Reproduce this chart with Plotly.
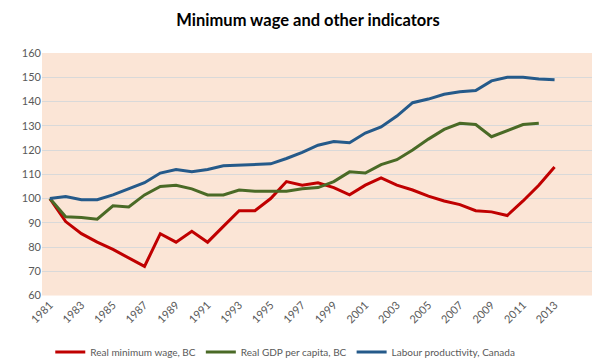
import plotly.graph_objects as go

years = list(range(1981, 2014))
min_wage = [100, 90.5, 85.5, 82, 79, 75.5, 72, 85.5, 82, 86.5, 82, 88.5, 95, 95, 100,
            107, 105.5, 106.5, 104.5, 101.5, 105.5, 108.5, 105.5, 103.5, 101, 99, 97.5,
            95, 94.5, 93, 99, 105.5, 113]
gdp_years = list(range(1981, 2013))
gdp = [100, 92.5, 92.2, 91.5, 97, 96.5, 101.5, 105, 105.5, 104, 101.5, 101.5, 103.5,
       103, 103, 103, 104, 104.5, 107, 111, 110.5, 114, 116, 120, 124.5, 128.5, 131,
       130.5, 125.5, 128, 130.5, 131]
productivity = [100, 100.8, 99.5, 99.5, 101.5, 104, 106.5, 110.5, 112, 111, 112, 113.5,
                113.8, 114.2, 114.3, 116.5, 119, 122, 123.5, 123, 127, 129.5, 134, 139.5,
                141, 143, 144, 144.5, 148.5, 150, 150, 149.3, 149]
tick_years = list(range(1981, 2014, 2))
y_ticks = list(range(60, 161, 10))

fig = go.Figure()
fig.add_trace(go.Scatter(x=years, y=min_wage, mode="lines", name="Real minimum wage, BC",
                         line=dict(color="#c00000", width=3)))
fig.add_trace(go.Scatter(x=gdp_years, y=gdp, mode="lines", name="Real GDP per capita, BC",
                         line=dict(color="#4a6a26", width=3)))
fig.add_trace(go.Scatter(x=years, y=productivity, mode="lines", name="Labour productivity, Canada",
                         line=dict(color="#255a8a", width=3)))

fig.update_layout(
    width=600, height=362,
    margin=dict(l=34, r=14, t=45, b=70),
    paper_bgcolor="white",
    plot_bgcolor="#fbe5d6",
    font=dict(family="Lato, Carlito, sans-serif", color="#595959", size=11),
    title=dict(text="<b>Minimum wage and other indicators</b>", x=0.5, xanchor="center",
               y=0.965, yanchor="middle", font=dict(size=16.5, color="#000000")),
    showlegend=True,
    legend=dict(orientation="h", x=0.015, xanchor="left", yref="container", y=0.05,
                yanchor="middle", font=dict(size=10, color="#595959"),
                itemwidth=30, tracegroupgap=0),
    xaxis=dict(range=[1980.5, 2015.5], tickmode="array", tickvals=tick_years,
               ticktext=[str(y) for y in tick_years], tickangle=-45, showgrid=False,
               zeroline=False, showline=False, ticks="", tickfont=dict(size=11)),
    yaxis=dict(range=[60, 160], tickmode="array", tickvals=y_ticks, showgrid=True,
               gridcolor="#d9d9d9", gridwidth=1, zeroline=False, showline=False,
               ticks="", tickfont=dict(size=11)),
)

fig.write_html("out.html")
